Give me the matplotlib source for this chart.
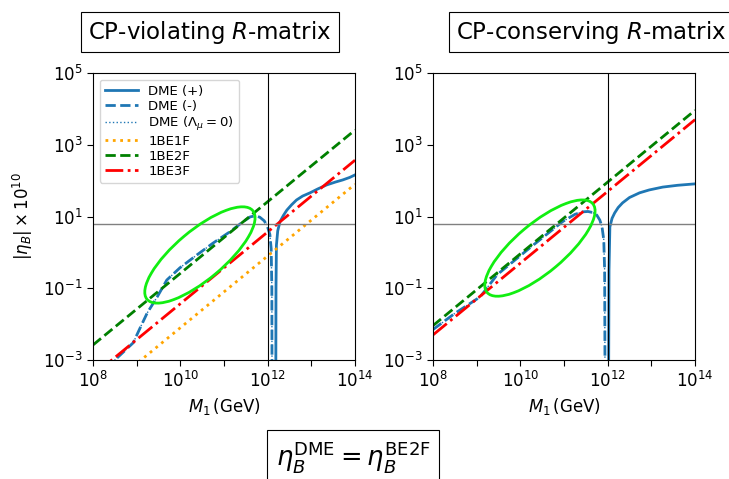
import numpy as np
import matplotlib
matplotlib.use('Agg')
import matplotlib.pyplot as plt
from matplotlib.patches import Ellipse
from matplotlib.transforms import ScaledTranslation

# data, log10 values
# straight reference lines: [logM at 8, logM at 14]
line_m = [8.0, 14.0]

viol_be1f = [-4.10, 1.90]
viol_be2f = [-2.58, 3.41]
viol_be3f = [-3.43, 2.57]

cons_be2f = [-2.04, 3.96]
cons_be3f = [-2.30, 3.70]

# DME curves, CP-violating
viol_minus_m = [8.40, 8.50, 8.92, 9.10, 9.24, 9.47, 9.69, 9.99, 10.38, 10.75, 11.13, 11.43,
                11.60, 11.72, 11.82, 11.92, 11.99, 12.05, 12.08, 12.095, 12.10]
viol_minus_eta = [-3.30, -3.00, -2.52, -2.05, -1.69, -1.24, -0.77, -0.43, -0.07, 0.26, 0.57, 0.85,
                  0.99, 1.02, 0.98, 0.88, 0.74, 0.50, 0.10, -1.00, -4.00]
viol_plus_m = [12.185, 12.19, 12.20, 12.23, 12.28, 12.36, 12.44, 12.55, 12.66, 12.80, 12.97,
               13.15, 13.35, 13.55, 13.72, 13.88, 14.00]
viol_plus_eta = [-4.00, -1.00, 0.20, 0.60, 0.85, 1.03, 1.18, 1.33, 1.46, 1.57, 1.66,
                 1.77, 1.88, 1.96, 2.02, 2.09, 2.16]

# DME curves, CP-conserving
cons_minus_m = [8.00, 8.50, 9.08, 9.47, 9.90, 10.22, 10.60, 10.97, 11.25, 11.43, 11.55,
                11.66, 11.75, 11.82, 11.87, 11.91, 11.93, 11.94]
cons_minus_eta = [-2.15, -1.70, -1.24, -0.62, -0.19, 0.13, 0.50, 0.86, 1.06, 1.13, 1.14,
                  1.11, 1.04, 0.90, 0.71, 0.35, -0.50, -4.00]
cons_plus_m = [12.02, 12.03, 12.05, 12.10, 12.16, 12.24, 12.34, 12.50, 12.73, 12.95, 13.26,
               13.60, 14.00]
cons_plus_eta = [-4.00, -0.50, 0.71, 0.95, 1.10, 1.25, 1.38, 1.53, 1.66, 1.74, 1.82,
                 1.87, 1.91]

eta_obs = 6.1
m_split = 1e12


def p10(v):
    return 10.0 ** np.array(v)


fig = plt.figure(figsize=(7.29, 4.79), dpi=100)
ax1 = fig.add_axes([0.1276, 0.2484, 0.3594, 0.5992])
ax2 = fig.add_axes([0.5940, 0.2484, 0.3594, 0.5992])

blue = '#1f77b4'


def draw_panel(ax, minus_m, minus_eta, plus_m, plus_eta, be2f, be3f, be1f=None):
    ax.plot(p10(plus_m), p10(plus_eta), '-', color=blue, lw=2, label='DME (+)')
    ax.plot(p10(minus_m), p10(minus_eta), '--', color=blue, lw=2, label='DME (-)')
    ax.plot(p10(minus_m), p10(minus_eta), ':', color=blue, lw=1,
            label=r'DME ($\Lambda_\mu = 0$)')
    if be1f is not None:
        ax.plot(p10(line_m), p10(be1f), ':', color='orange', lw=2, label='1BE1F')
    ax.plot(p10(line_m), p10(be2f), '--', color='green', lw=2, label='1BE2F')
    ax.plot(p10(line_m), p10(be3f), '-.', color='red', lw=2, label='1BE3F')
    ax.axhline(eta_obs, color='gray', lw=1)
    ax.axvline(m_split, color='black', lw=0.8)
    ax.set_xscale('log')
    ax.set_yscale('log')
    ax.set_xlim(1e8, 1e14)
    ax.set_ylim(1e-3, 1e5)
    ax.set_xticks([1e8, 1e9, 1e10, 1e11, 1e12, 1e13, 1e14])
    ax.set_xticklabels([r'$10^{8}$', '', r'$10^{10}$', '', r'$10^{12}$', '', r'$10^{14}$'])
    ax.set_yticks([1e-3, 1e-1, 1e1, 1e3, 1e5])
    ax.minorticks_off()
    ax.tick_params(labelsize=12, length=4)
    ax.set_xlabel(r'$M_1\,$(GeV)', fontsize=12)


draw_panel(ax1, viol_minus_m, viol_minus_eta, viol_plus_m, viol_plus_eta,
           viol_be2f, viol_be3f, viol_be1f)
draw_panel(ax2, cons_minus_m, cons_minus_eta, cons_plus_m, cons_plus_eta,
           cons_be2f, cons_be3f)
ax1.set_ylabel(r'$|\eta_B| \times 10^{10}$', fontsize=12, labelpad=6)
ax1.legend(loc='upper left', fontsize=9.5, handlelength=2.5, borderaxespad=0.5,
           labelspacing=0.15)

# highlight ellipses
for ax, cx, cy in [(ax1, 0.408, 0.366), (ax2, 0.408, 0.390)]:
    trans = fig.dpi_scale_trans + ScaledTranslation(cx, cy, ax.transAxes)
    ax.add_patch(Ellipse((0, 0), width=1.38, height=0.49, angle=40, transform=trans,
                         fill=False, ec='#11ee11', lw=2, clip_on=False, zorder=5))

box = dict(boxstyle='square,pad=0.3', fc='white', ec='black', lw=0.8)
fig.text(0.121, 0.933, r'CP-violating $R$-matrix', fontsize=16.5, ha='left', va='center', bbox=box)
fig.text(0.625, 0.933, r'CP-conserving $R$-matrix', fontsize=16.5, ha='left', va='center', bbox=box)
fig.text(0.378, 0.045, r'$\eta_B^{\mathsf{DME}} = \eta_B^{\mathsf{BE2F}}$', fontsize=18.5,
         ha='left', va='center', bbox=dict(boxstyle='square,pad=0.35', fc='white',
                                           ec='black', lw=0.8))

fig.savefig('out.png', dpi=100)
